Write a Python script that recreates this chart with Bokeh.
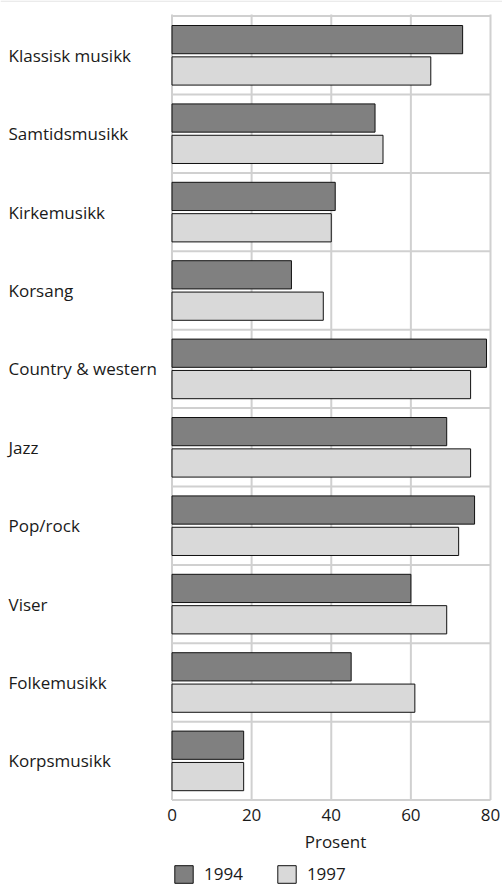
from bokeh.plotting import figure
from bokeh.models import Range1d, FixedTicker, Legend, LegendItem, ColumnDataSource, Span
from bokeh.core.properties import value
from bokeh.embed import file_html
from bokeh.resources import INLINE

# ---- data ----
categories = ["Klassisk musikk", "Samtidsmusikk", "Kirkemusikk", "Korsang",
              "Country & western", "Jazz", "Pop/rock", "Viser",
              "Folkemusikk", "Korpsmusikk"]
values_1994 = [73, 51, 41, 30, 79, 69, 76, 60, 45, 18]
values_1997 = [65, 53, 40, 38, 75, 75, 72, 69, 61, 18]
x_ticks = [0, 20, 40, 60, 80]
series_labels = ["1994", "1997"]
x_title = "Prosent"

# ---- style / geometry ----
FONT = "Open Sans"
FS = "17px"
TXT = "#1a1a1a"
GRID = "#d0d0d0"
C94 = "#808080"
C97 = "#d9d9d9"

W, H = 502, 884
x0_px, x80_px = 171.5, 490.0
ppu = (x80_px - x0_px) / 80.0
x_start = -x0_px / ppu
x_end = (W - x0_px) / ppu

band_px = 78.4
top_px = 15.6
y_top = -0.5 - top_px / band_px
y_bottom = y_top + H / band_px

p = figure(width=W, height=H, output_backend="svg", toolbar_location=None,
           x_range=Range1d(x_start, x_end), y_range=Range1d(y_bottom, y_top),
           y_axis_location=None, min_border_left=0, min_border_right=0,
           min_border_top=0, min_border_bottom=0)
p.outline_line_color = None
p.xgrid.visible = False
p.ygrid.visible = False

n = len(categories)
idx = list(range(n))

# thin rule at the very top of the page
p.add_layout(Span(location=y_top + 0.6 / band_px, dimension="width",
                  line_color="#dddddd", line_width=1))

# grid lines
p.segment(x0=x_ticks, x1=x_ticks, y0=[-0.5 - 1.6 / band_px] * len(x_ticks),
          y1=[n - 0.5] * len(x_ticks), line_color=GRID, line_width=2)
bounds = [i - 0.5 for i in range(n + 1)]
p.segment(x0=[0] * len(bounds), x1=[80] * len(bounds), y0=bounds, y1=bounds,
          line_color=GRID, line_width=2)

off = 0.2
bh = 0.36
s94 = ColumnDataSource(dict(y=[i - off for i in idx], right=values_1994))
s97 = ColumnDataSource(dict(y=[i + off for i in idx], right=values_1997))
r94 = p.hbar(y="y", right="right", left=0, height=bh, source=s94,
             fill_color=C94, line_color="#111111", line_width=1)
r97 = p.hbar(y="y", right="right", left=0, height=bh, source=s97,
             fill_color=C97, line_color="#111111", line_width=1)

# category labels (left aligned)
lbl_x = x_start + 8 / ppu
p.text(x=[lbl_x] * n, y=idx, text=categories, text_font=value(FONT),
       text_font_size=FS, text_baseline="middle", text_align="left",
       text_color=TXT)

ax = p.xaxis[0]
ax.fixed_location = n - 0.5
ax.ticker = FixedTicker(ticks=x_ticks)
ax.bounds = (0, 82)
ax.axis_line_color = None
ax.major_tick_line_color = None
ax.minor_tick_line_color = None
ax.major_tick_out = 0
ax.major_tick_in = 0
ax.major_label_standoff = 9
ax.major_label_text_font = FONT
ax.major_label_text_font_size = FS
ax.major_label_text_color = TXT
ax.axis_label = x_title
ax.axis_label_text_font = FONT
ax.axis_label_text_font_size = FS
ax.axis_label_text_font_style = "normal"
ax.axis_label_text_color = TXT
ax.axis_label_standoff = 5

legend = Legend(items=[LegendItem(label=series_labels[0], renderers=[r94]),
                       LegendItem(label=series_labels[1], renderers=[r97])],
                orientation="horizontal", location=(172, -1),
                padding=0, margin=0, spacing=32, glyph_width=23,
                glyph_height=22, label_height=22, label_standoff=9,
                border_line_color=None, background_fill_alpha=0,
                label_text_font=FONT, label_text_font_size=FS,
                label_text_color=TXT)
p.add_layout(legend)

open("out.html", "w").write(file_html(p, INLINE))
